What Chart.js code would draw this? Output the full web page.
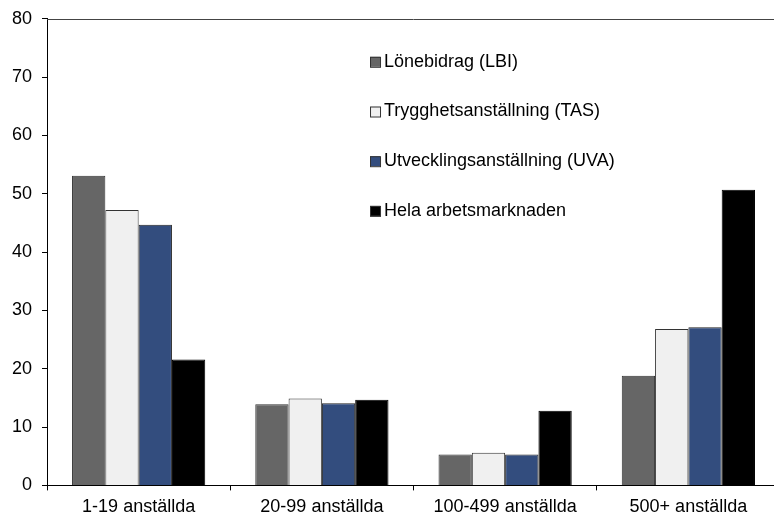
<!DOCTYPE html>
<html>
<head>
<meta charset="utf-8">
<script src="https://cdn.jsdelivr.net/npm/chart.js@4"></script>
<style>
html,body{margin:0;padding:0;background:#fff;overflow:hidden;}
#wrap{width:780px;height:526px;position:relative;margin-top:-2px;}
</style>
</head>
<body>
<div id="wrap"><canvas id="c"></canvas></div>
<script>
const categories = ["1-19 anställda", "20-99 anställda", "100-499 anställda", "500+ anställda"];
const seriesNames = ["Lönebidrag (LBI)", "Trygghetsanställning (TAS)", "Utvecklingsanställning (UVA)", "Hela arbetsmarknaden"];
const lbi  = [53.1, 13.9, 5.3, 18.8];
const tas  = [47.2, 14.9, 5.6, 26.8];
const uva  = [44.7, 14.1, 5.3, 27.1];
const hela = [21.6, 14.7, 12.8, 50.7];
const yTicks = [0, 10, 20, 30, 40, 50, 60, 70, 80];

const colors = ["#666666", "#f0f0f0", "#334d7e", "#000000"];
const borders = ["#333333", "#333333", "#222222", "#000000"];
const values = [lbi, tas, uva, hela];

const FONT = "'Liberation Sans', Arial, sans-serif";

const innerLegend = {
  id: 'innerLegend',
  afterDraw(chart) {
    const ctx = chart.ctx;
    const ca = chart.chartArea;
    const x0 = ca.left + 323;
    const y0 = ca.top + 43;
    const step = 49.7;
    ctx.save();
    ctx.font = "18px " + FONT;
    ctx.textBaseline = 'middle';
    chart.data.datasets.forEach((ds, i) => {
      const y = y0 + i * step;
      ctx.fillStyle = ds.backgroundColor;
      ctx.fillRect(x0, y - 5, 10, 10);
      ctx.strokeStyle = '#333';
      ctx.lineWidth = 1;
      ctx.strokeRect(x0 + 0.5, y - 4.5, 10, 10);
      ctx.fillStyle = '#000';
      ctx.fillText(ds.label, x0 + 14, y);
    });
    ctx.restore();
  }
};

const topBorder = {
  id: 'topBorder',
  afterDraw(chart) {
    const ctx = chart.ctx;
    const ca = chart.chartArea;
    ctx.save();
    ctx.strokeStyle = '#444';
    ctx.lineWidth = 1;
    ctx.beginPath();
    ctx.moveTo(ca.left, Math.round(ca.top) + 0.5);
    ctx.lineTo(ca.right, Math.round(ca.top) + 0.5);
    ctx.stroke();
    ctx.restore();
  }
};

new Chart(document.getElementById('c'), {
  type: 'bar',
  data: {
    labels: categories,
    datasets: seriesNames.map((name, i) => ({
      label: name,
      data: values[i],
      backgroundColor: colors[i],
      borderColor: borders[i],
      borderWidth: 1,
      barPercentage: 1.0,
      categoryPercentage: 0.727
    }))
  },
  options: {
    responsive: true,
    maintainAspectRatio: false,
    animation: false,
    devicePixelRatio: 1,
    layout: { padding: { top: 6, right: 0, bottom: 0, left: 2 } },
    plugins: {
      legend: { display: false },
      tooltip: { enabled: false }
    },
    scales: {
      x: {
        offset: true,
        grid: { offset: true, drawOnChartArea: false, drawTicks: true, tickLength: 5, color: '#000' },
        border: { display: true, color: '#000', width: 1 },
        ticks: { font: { family: FONT, size: 18 }, color: '#000', padding: 6, maxRotation: 0 }
      },
      y: {
        min: 0,
        max: 80,
        afterBuildTicks: (axis) => { axis.ticks = yTicks.map(v => ({ value: v })); },
        grid: { drawOnChartArea: false, drawTicks: true, tickLength: 5, color: '#000' },
        border: { display: true, color: '#000', width: 1 },
        ticks: { font: { family: FONT, size: 18 }, color: '#000', padding: 10 }
      }
    }
  },
  plugins: [topBorder, innerLegend]
});
</script>
</body>
</html>
